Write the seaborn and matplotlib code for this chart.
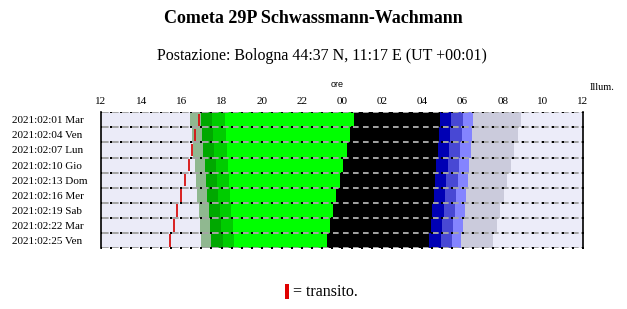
import matplotlib
matplotlib.use("Agg")
import matplotlib.pyplot as plt
import matplotlib.patches as mpatches
import numpy as np
import pandas as pd
import seaborn as sns

# ---------------- data (clock hours; after midnight = +24) ----------------
dates = ["2021:02:01 Mar", "2021:02:04 Ven", "2021:02:07 Lun", "2021:02:10 Gio",
         "2021:02:13 Dom", "2021:02:16 Mer", "2021:02:19 Sab", "2021:02:22 Mar",
         "2021:02:25 Ven"]
graygreen_start = [16.43, 16.53, 16.56, 16.68, 16.73, 16.78, 16.86, 16.93, 16.98]
darkgreen_start = [16.99, 17.03, 17.08, 17.16, 17.21, 17.28, 17.36, 17.43, 17.48]
midgreen_start = [17.54, 17.59, 17.64, 17.73, 17.79, 17.84, 17.93, 17.99, 18.06]
green_start = [18.17, 18.21, 18.26, 18.31, 18.37, 18.42, 18.49, 18.56, 18.62]
black_start = [24.60, 24.40, 24.23, 24.05, 23.90, 23.70, 23.55, 23.40, 23.25]
darkblue_start = [28.88, 28.83, 28.77, 28.70, 28.65, 28.58, 28.50, 28.45, 28.35]
midblue_start = [29.43, 29.38, 29.31, 29.26, 29.19, 29.13, 29.06, 28.98, 28.91]
lightblue_start = [30.04, 29.96, 29.89, 29.83, 29.78, 29.69, 29.61, 29.54, 29.46]
gray_start = [30.51, 30.47, 30.41, 30.32, 30.26, 30.19, 30.11, 30.02, 29.94]
lavender_start = [32.91, 32.78, 32.56, 32.42, 32.22, 32.07, 31.87, 31.72, 31.50]
day_end = [36.0] * 9
transit = [16.86, 16.68, 16.52, 16.37, 16.17, 16.00, 15.80, 15.63, 15.45]

tick_hours = [12, 14, 16, 18, 20, 22, 24, 26, 28, 30, 32, 34, 36]
tick_labels = ["12", "14", "16", "18", "20", "22", "00", "02", "04", "06", "08", "10", "12"]

# segment colours, each segment ends at the given boundary
segments = [
    (graygreen_start, "#EBEBF8"),
    (darkgreen_start, "#90B890"),
    (midgreen_start, "#00A800"),
    (green_start, "#00CC00"),
    (black_start, "#00FF00"),
    (darkblue_start, "#000000"),
    (midblue_start, "#0000B4"),
    (lightblue_start, "#4848D4"),
    (gray_start, "#8484FF"),
    (lavender_start, "#CBCBDC"),
    (day_end, "#ECECF9"),
]

T0 = 12.0

sns.set_theme(style="white")
plt.rcParams["font.family"] = ["Liberation Serif", "DejaVu Serif"]
plt.rcParams["lines.scale_dashes"] = False

W, H = 627, 309
fig = plt.figure(figsize=(W / 100, H / 100), dpi=100)
fig.patch.set_facecolor("white")
ax = fig.add_axes([101 / W, 1 - 248 / H, 482 / W, (248 - 112.3) / H])

for ends, col in reversed(segments):
    d = pd.DataFrame({"date": dates, "end": np.array(ends) - T0})
    sns.barplot(data=d, x="end", y="date", orient="h", color=col, width=1.0,
                linewidth=0, saturation=1, errorbar=None, ax=ax)

# transit marks
yy = np.arange(len(dates))
ax.vlines(np.array(transit) - T0, yy - 0.42, yy + 0.42, color="#D81010", lw=1.3, zorder=5)

# row separators: gray dashed line with black half-hour marks
half = np.arange(0, 24.01, 0.5)
for ysep in np.arange(-0.5, len(dates), 1.0):
    ax.plot([0, 24], [ysep, ysep], color="#A4A4A4", lw=1.4, dashes=(5.5, 1.7),
            dash_capstyle="butt", zorder=6)
    ax.plot(half, [ysep] * len(half), "s", ms=1.7, mew=0, color="black", zorder=7)

ax.set_xlim(0, 24)
ax.set_ylim(len(dates) - 0.5, -0.5)
ax.set_xlabel("")
ax.set_ylabel("")
ax.xaxis.tick_top()
ax.set_xticks(np.array(tick_hours) - T0)
ax.set_xticklabels(tick_labels, fontsize=8)
ax.tick_params(axis="x", length=0, pad=4.5, colors="black")
ax.set_yticks(yy)
ax.set_yticklabels(dates, fontsize=8, ha="left")
ax.tick_params(axis="y", length=0, pad=64, colors="black")
for s in ["top", "bottom"]:
    ax.spines[s].set_visible(False)
for s in ["left", "right"]:
    ax.spines[s].set_visible(True)
    ax.spines[s].set_color("black")
    ax.spines[s].set_linewidth(1.2)
    ax.spines[s].set_zorder(8)

# texts
fig.text(313 / W, 1 - 18.5 / H, "Cometa 29P Schwassmann-Wachmann", ha="center", va="center",
         fontsize=13, fontweight="bold", color="black")
fig.text(322 / W, 1 - 56.5 / H, "Postazione: Bologna 44:37 N, 11:17 E (UT +00:01)",
         ha="center", va="center", fontsize=11.5, color="black")
fig.text(337 / W, 1 - 85 / H, "ore", ha="center", va="center", fontsize=6.5,
         family=["Liberation Sans", "DejaVu Sans"], color="black")
fig.text(602 / W, 1 - 88 / H, "Illum.", ha="center", va="center", fontsize=7.5, color="black")

fig.add_artist(mpatches.Rectangle((285 / W, 1 - 299 / H), 4 / W, 15 / H,
                                  transform=fig.transFigure, color="#E00000", lw=0))
fig.text(293 / W, 1 - 292.5 / H, "= transito.", ha="left", va="center", fontsize=11.5,
         color="black")

fig.savefig("out.png", dpi=100)
